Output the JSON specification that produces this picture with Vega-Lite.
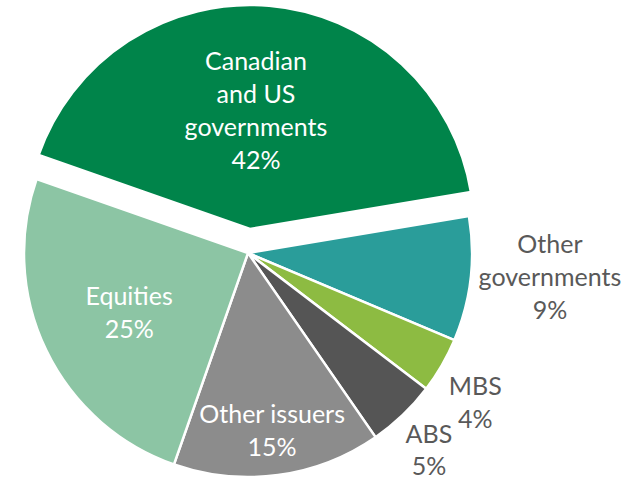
{
  "$schema": "https://vega.github.io/schema/vega-lite/v6.json",
  "width": 496,
  "height": 460,
  "autosize": "none",
  "padding": {"left": 0, "top": 23, "right": 147, "bottom": 0},
  "background": "white",
  "config": {"view": {"stroke": null}},
  "data": {
    "values": [
      {"category": "Other governments", "pct": 9, "label": "Other\ngovernments\n9%"},
      {"category": "MBS", "pct": 4, "label": "MBS\n4%"},
      {"category": "ABS", "pct": 5, "label": "ABS\n5%"},
      {"category": "Other issuers", "pct": 15, "label": "Other issuers\n15%"},
      {"category": "Equities", "pct": 25, "label": "Equities\n25%"},
      {"category": "Canadian and US governments", "pct": 42, "label": "Canadian\nand US\ngovernments\n42%"}
    ]
  },
  "transform": [{"window": [{"op": "row_number", "as": "idx"}]}],
  "encoding": {
    "theta": {"field": "pct", "type": "quantitative", "stack": true, "scale": {"range": [1.405, 7.688]}},
    "order": {"field": "idx", "type": "quantitative"}
  },
  "layer": [
    {
      "mark": {"type": "arc", "outerRadius": 224, "stroke": "white", "strokeWidth": 2.5},
      "encoding": {
        "color": {"field": "category", "type": "nominal", "legend": null,
          "scale": {"domain": ["Other governments", "MBS", "ABS", "Other issuers", "Equities", "Canadian and US governments"],
                    "range": ["#2A9D9A", "#8DBB42", "#555555", "#8C8C8C", "#8CC5A4", "#00844A"]}},
        "opacity": {"condition": {"test": "datum.category === 'Canadian and US governments'", "value": 0}, "value": 1}
      }
    },
    {
      "mark": {"type": "arc", "outerRadius": 224, "stroke": "white", "strokeWidth": 2.5, "xOffset": 2, "yOffset": -24},
      "encoding": {
        "color": {"field": "category", "type": "nominal", "legend": null},
        "opacity": {"condition": {"test": "datum.category === 'Canadian and US governments'", "value": 1}, "value": 0}
      }
    },
    {
      "mark": {"type": "text", "radius": 117, "xOffset": -2, "yOffset": -74, "font": "Lato", "fontSize": 25, "lineHeight": 33, "lineBreak": "\n", "fill": "white", "align": "center", "baseline": "middle"},
      "encoding": {"text": {"condition": {"test": "datum.category === 'Canadian and US governments'", "field": "label"}, "value": ""}}
    },
    {
      "mark": {"type": "text", "radius": 133, "xOffset": 1, "yOffset": -13.5, "font": "Lato", "fontSize": 25, "lineHeight": 33, "lineBreak": "\n", "fill": "white", "align": "center", "baseline": "middle"},
      "encoding": {"text": {"condition": {"test": "datum.category === 'Equities'", "field": "label"}, "value": ""}}
    },
    {
      "mark": {"type": "text", "radius": 180, "yOffset": -16.5, "font": "Lato", "fontSize": 25, "lineHeight": 33, "lineBreak": "\n", "fill": "white", "align": "center", "baseline": "middle"},
      "encoding": {"text": {"condition": {"test": "datum.category === 'Other issuers'", "field": "label"}, "value": ""}}
    },
    {
      "mark": {"type": "text", "radius": 300, "xOffset": 4, "yOffset": -43, "font": "Lato", "fontSize": 25, "lineHeight": 33, "lineBreak": "\n", "fill": "#595959", "align": "center", "baseline": "middle"},
      "encoding": {"text": {"condition": {"test": "datum.category === 'Other governments'", "field": "label"}, "value": ""}}
    },
    {
      "mark": {"type": "text", "radius": 272, "xOffset": -8, "yOffset": -2, "font": "Lato", "fontSize": 25, "lineHeight": 33, "lineBreak": "\n", "fill": "#595959", "align": "center", "baseline": "middle"},
      "encoding": {"text": {"condition": {"test": "datum.category === 'MBS'", "field": "label"}, "value": ""}}
    },
    {
      "mark": {"type": "text", "radius": 272, "xOffset": -7, "yOffset": -15, "font": "Lato", "fontSize": 25, "lineHeight": 32, "lineBreak": "\n", "fill": "#595959", "align": "center", "baseline": "middle"},
      "encoding": {"text": {"condition": {"test": "datum.category === 'ABS'", "field": "label"}, "value": ""}}
    }
  ]
}
